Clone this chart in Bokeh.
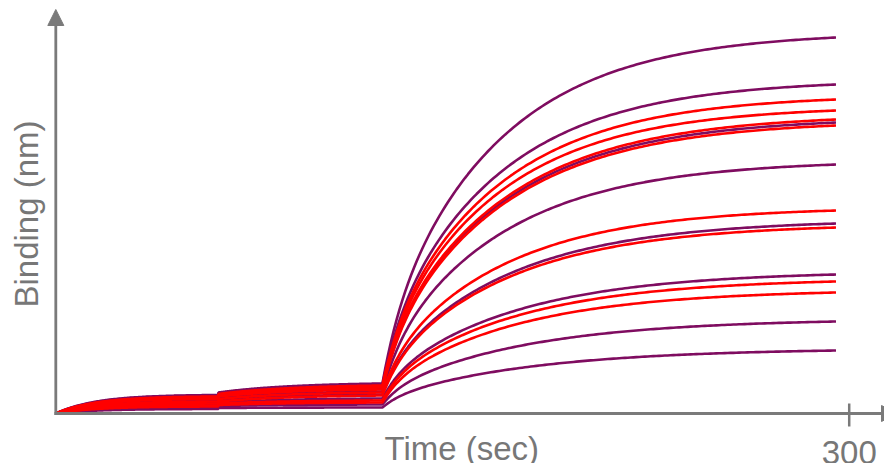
import numpy as np
from bokeh.plotting import figure
from bokeh.models import Range1d, Arrow, NormalHead
from bokeh.core.properties import value
from bokeh.embed import file_html
from bokeh.resources import INLINE

# ---- data -----------------------------------------------------------------
# step boundaries (sec): load 1, load 2, association
step_times = [0.0, 61.5, 123.5, 295.0]

# one entry per sensor trace (binding in nm)
trace_color = ["purple", "purple", "red", "red", "red", "purple", "red", "purple",
               "red", "purple", "red", "purple", "red", "red", "purple", "purple"]
step1_end = [0.185, 0.18, 0.17, 0.165, 0.16, 0.15, 0.145, 0.13,
             0.12, 0.11, 0.10, 0.09, 0.08, 0.07, 0.06, 0.045]
step2_start = [0.21, 0.205, 0.195, 0.19, 0.185, 0.175, 0.17, 0.155,
               0.145, 0.13, 0.12, 0.11, 0.10, 0.085, 0.075, 0.055]
step2_end = [0.30, 0.29, 0.28, 0.27, 0.26, 0.25, 0.24, 0.22,
             0.21, 0.19, 0.18, 0.15, 0.13, 0.11, 0.09, 0.06]
assoc_end = [3.76, 3.29, 3.14, 3.03, 2.94, 2.91, 2.88, 2.49,
             2.03, 1.90, 1.86, 1.39, 1.32, 1.21, 0.92, 0.63]
# observed rate constants (1/sec)
k_step1 = 0.065
k_step2 = 0.035
k_assoc_fast = 0.15          # fast phase of the association step
fast_share = 0.15            # share of the association signal in the fast phase
k_assoc = [0.023, 0.023, 0.023, 0.023, 0.022, 0.022, 0.022, 0.022,
           0.022, 0.021, 0.021, 0.020, 0.020, 0.020, 0.019, 0.018]

tick_value = 300
x_title = "Time (sec)"
y_title = "Binding (nm)"

# ---- styling --------------------------------------------------------------
PALETTE = {"purple": "#7f0c60", "red": "#ff0000"}
AXIS_GRAY = "#7a7a7a"
TEXT_GRAY = "#777777"
FONT = value("Liberation Sans")

SEC_PX = 2.6447      # pixels per second
NM_PX = 100.0        # pixels per nm
ORIGIN_X, ORIGIN_Y = 55.3, 413.0
W, H = 884, 463

p = figure(width=W, height=H, output_backend="svg", toolbar_location=None,
           x_axis_location=None, y_axis_location=None, min_border=0,
           x_range=Range1d(-ORIGIN_X / SEC_PX, (W - ORIGIN_X) / SEC_PX),
           y_range=Range1d(-(H - ORIGIN_Y) / NM_PX, ORIGIN_Y / NM_PX))
p.outline_line_color = None
p.background_fill_color = "white"
p.border_fill_color = "white"
p.xgrid.grid_line_color = None
p.ygrid.grid_line_color = None


def exp_segment(t0, t1, y0, y1, k, k_fast=0.0, share=0.0, n=160):
    """(Bi-)exponential approach from y0 at t0 reaching y1 at t1."""
    t = np.linspace(t0, t1, n)
    dt = t - t0

    def shape(d):
        fast = share * (1 - np.exp(-k_fast * d)) if share else 0.0
        return fast + (1 - share) * (1 - np.exp(-k * d))

    f = shape(dt) / shape(t1 - t0)
    return t, y0 + (y1 - y0) * f


def build_trace(i):
    t1, y1 = exp_segment(step_times[0], step_times[1], 0.0, step1_end[i], k_step1)
    t2, y2 = exp_segment(step_times[1], step_times[2], step2_start[i], step2_end[i], k_step2)
    t3, y3 = exp_segment(step_times[2], step_times[3], step2_end[i], assoc_end[i],
                         k_assoc[i], k_assoc_fast, fast_share)
    return (np.concatenate([t1, t2, t3]).tolist(),
            np.concatenate([y1, y2, y3]).tolist())


# purple traces underneath, red on top
for name in ["purple", "red"]:
    xs, ys = [], []
    for i, c in enumerate(trace_color):
        if c == name:
            tx, ty = build_trace(i)
            xs.append(tx)
            ys.append(ty)
    p.multi_line(xs, ys, line_color=PALETTE[name], line_width=2.6)

# axes drawn as arrows
p.add_layout(Arrow(end=NormalHead(size=16, fill_color=AXIS_GRAY, line_color=AXIS_GRAY),
                   x_start=0, y_start=-0.015, x_end=0, y_end=(ORIGIN_Y - 9) / NM_PX,
                   line_color=AXIS_GRAY, line_width=2.8))
p.add_layout(Arrow(end=NormalHead(size=16, fill_color=AXIS_GRAY, line_color=AXIS_GRAY),
                   x_start=-0.5, y_start=0, x_end=(897 - ORIGIN_X) / SEC_PX, y_end=0,
                   line_color=AXIS_GRAY, line_width=2.8))

# single tick at 300 s
p.segment(x0=[tick_value], y0=[0.10], x1=[tick_value], y1=[-0.13],
          line_color=AXIS_GRAY, line_width=2.5)
p.text(x=[tick_value], y=[-0.385], text=[str(tick_value)], text_font=FONT,
       text_font_size="33px", text_color=TEXT_GRAY, text_align="center",
       text_baseline="alphabetic")

# axis titles
p.text(x=[153.5], y=[-0.345], text=[x_title], text_font=FONT,
       text_font_size="33px", text_color=TEXT_GRAY, text_align="center",
       text_baseline="alphabetic")
p.text(x=[-11.04], y=[1.995], text=[y_title], text_font=FONT, angle=np.pi / 2,
       text_font_size="33px", text_color=TEXT_GRAY, text_align="center",
       text_baseline="alphabetic")

open("out.html", "w").write(file_html(p, INLINE))
